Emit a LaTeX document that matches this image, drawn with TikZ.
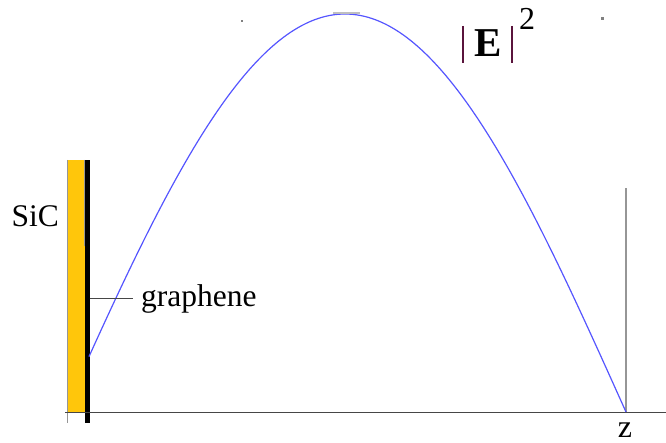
\documentclass[tikz,border=0pt]{standalone}
\usepackage{fontspec}
\setmainfont{Liberation Serif}
\definecolor{sicyellow}{RGB}{255,198,11}
\definecolor{curveblue}{RGB}{85,85,255}
\definecolor{axisgray}{RGB}{70,70,70}
\definecolor{bargray}{RGB}{150,150,150}
\definecolor{absbar}{RGB}{90,20,60}
\tikzset{
  lbl/.style={inner sep=0pt, font=\fontsize{31.5}{36}\selectfont},
  field/.style={curveblue, line width=1.2pt},
}
\begin{document}
\begin{tikzpicture}[x=1pt,y=-1pt]
\useasboundingbox (0,0) rectangle (666,443);
% SiC slab
\fill[sicyellow] (67,160) rectangle (85,412);
\draw[bargray, line width=1pt] (67,160) -- (67,423);
\draw[bargray, line width=1pt] (84.5,160) -- (84.5,246);
\draw[bargray, line width=1pt] (85,412) -- (85,423);
% graphene layer
\fill[black] (85,160) rectangle (89.5,423);
% axis
\draw[axisgray, line width=1pt] (65,412) -- (666,412);
\coordinate (zend) at (626,412);
\coordinate (ztop) at (626,188);
\draw[bargray, line width=1.2pt] (zend) -- (ztop);
% field curve
\draw[field] plot[domain=89:626, samples=200] (\x, {412-398*cos(0.320285*(\x-345))});
% labels
\node[lbl, anchor=base east] (sic) at (59,227) {SiC};
\node[lbl, anchor=base west] (gr) at (141,307) {graphene};
\coordinate (grl) at (89.5,298);
\draw[axisgray, line width=0.6pt] (grl) -- (133,298);
\node[inner sep=0pt, anchor=base, font=\fontsize{32}{36}\selectfont] (z) at (625,437) {z};
% |E|^2
\node[inner sep=0pt, anchor=base, font=\fontsize{41}{48}\selectfont\bfseries] (E) at (488,57) {E};
\coordinate (b1t) at (463,26);
\coordinate (b1b) at (463,63);
\coordinate (b2t) at (512,26);
\coordinate (b2b) at (512,63);
\draw[absbar, line width=1.2pt] (b1t) -- (b1b);
\draw[absbar, line width=1.2pt] (b2t) -- (b2b);
\node[inner sep=0pt, anchor=base, font=\fontsize{32}{36}\selectfont] (sq) at (527,30) {2};
% specks
\fill[gray] (241,20) rectangle (243,22);
\fill[gray] (601,17) rectangle (604,20);
\fill[black!25] (333,12) rectangle (360,14);
\end{tikzpicture}
\end{document}
